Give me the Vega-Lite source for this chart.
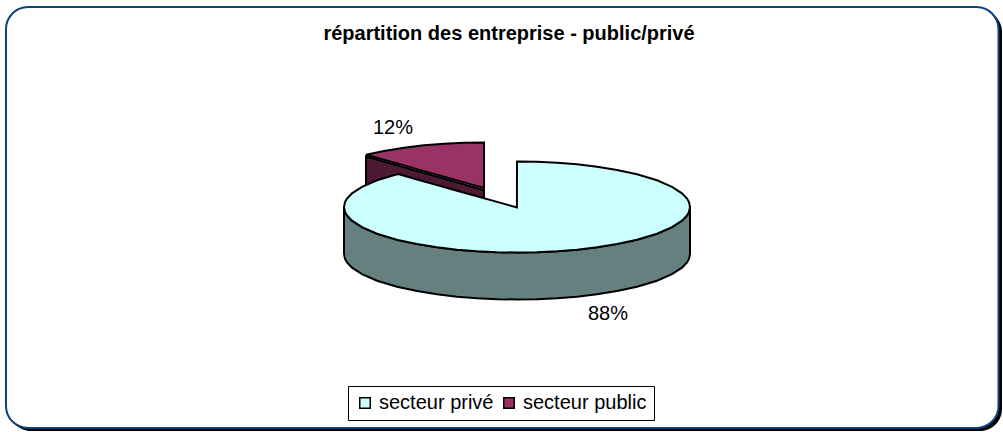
{
"$schema":"https://vega.github.io/schema/vega-lite/v6.json",
"width":1003,"height":432,"padding":0,"autosize":{"type":"none"},"background":"white",
"config":{"view":{"stroke":null}},
"title":{"text":"répartition des entreprise - public/privé","font":"Liberation Sans","fontSize":20,"fontWeight":"bold","color":"#000000","anchor":"middle","frame":"group","dx":7.5,"offset":-44},
"datasets":{
"cadre":[{"x":6,"x2":998.5,"y":7,"y2":428}],
"ombre":[{"x":9,"x2":1002,"y":10,"y2":431}],
"public_paroi":[{"x":366,"y":156.5,"y2":203.5},{"x":484,"y":190,"y2":237}],
"public_dessus":[
{"secteur":"secteur public","x":366,"y":154.7,"y2":154.7},
{"secteur":"secteur public","x":384,"y":150.9,"y2":159.8},
{"secteur":"secteur public","x":404,"y":147.7,"y2":165.4},
{"secteur":"secteur public","x":424,"y":145.3,"y2":171.1},
{"secteur":"secteur public","x":444,"y":143.7,"y2":176.7},
{"secteur":"secteur public","x":464,"y":142.8,"y2":182.4},
{"secteur":"secteur public","x":484,"y":142.5,"y2":188}],
"prive_paroi":[
{"x":344,"y":207,"y2":254},{"x":345,"y":211.9,"y2":258.9},{"x":347,"y":215.4,"y2":262.4},{"x":352,"y":220.7,"y2":267.7},{"x":362,"y":227.2,"y2":274.2},{"x":377,"y":233.7,"y2":280.7},{"x":397,"y":239.8,"y2":286.8},{"x":417,"y":244.1,"y2":291.1},{"x":437,"y":247.3,"y2":294.3},{"x":457,"y":249.7,"y2":296.7},{"x":477,"y":251.3,"y2":298.3},{"x":497,"y":252.2,"y2":299.2},{"x":517,"y":252.5,"y2":299.5},{"x":537,"y":252.2,"y2":299.2},{"x":557,"y":251.3,"y2":298.3},{"x":577,"y":249.7,"y2":296.7},{"x":597,"y":247.3,"y2":294.3},{"x":617,"y":244.1,"y2":291.1},{"x":637,"y":239.8,"y2":286.8},{"x":657,"y":233.7,"y2":280.7},{"x":672,"y":227.2,"y2":274.2},{"x":682,"y":220.7,"y2":267.7},{"x":687,"y":215.4,"y2":262.4},{"x":689,"y":211.9,"y2":258.9},{"x":690,"y":207,"y2":254}],
"prive_dessus":[
{"secteur":"secteur privé","x":344,"y":207,"y2":207},
{"secteur":"secteur privé","x":345,"y":202.1,"y2":211.9},
{"secteur":"secteur privé","x":347,"y":198.6,"y2":215.4},
{"secteur":"secteur privé","x":352,"y":193.3,"y2":220.7},
{"secteur":"secteur privé","x":362,"y":186.8,"y2":227.2},
{"secteur":"secteur privé","x":377,"y":180.3,"y2":233.7},
{"secteur":"secteur privé","x":397,"y":174.2,"y2":239.8},
{"secteur":"secteur privé","x":399,"y":174.3,"y2":240.3},
{"secteur":"secteur privé","x":417,"y":179.5,"y2":244.1},
{"secteur":"secteur privé","x":437,"y":185.1,"y2":247.3},
{"secteur":"secteur privé","x":457,"y":190.7,"y2":249.7},
{"secteur":"secteur privé","x":477,"y":196.3,"y2":251.3},
{"secteur":"secteur privé","x":497,"y":201.9,"y2":252.2},
{"secteur":"secteur privé","x":516.9,"y":207.5,"y2":252.5},
{"secteur":"secteur privé","x":517,"y":161.5,"y2":252.5},
{"secteur":"secteur privé","x":537,"y":161.8,"y2":252.2},
{"secteur":"secteur privé","x":557,"y":162.7,"y2":251.3},
{"secteur":"secteur privé","x":577,"y":164.3,"y2":249.7},
{"secteur":"secteur privé","x":597,"y":166.7,"y2":247.3},
{"secteur":"secteur privé","x":617,"y":169.9,"y2":244.1},
{"secteur":"secteur privé","x":637,"y":174.2,"y2":239.8},
{"secteur":"secteur privé","x":657,"y":180.3,"y2":233.7},
{"secteur":"secteur privé","x":672,"y":186.8,"y2":227.2},
{"secteur":"secteur privé","x":682,"y":193.3,"y2":220.7},
{"secteur":"secteur privé","x":687,"y":198.6,"y2":215.4},
{"secteur":"secteur privé","x":689,"y":202.1,"y2":211.9},
{"secteur":"secteur privé","x":690,"y":207,"y2":207}],
"parts":[{"secteur":"secteur privé","part":0.88,"x":608,"y":314},{"secteur":"secteur public","part":0.12,"x":393,"y":128}]
},
"encoding":{
"x":{"field":"x","type":"quantitative","scale":{"domain":[0,1003],"nice":false,"zero":false},"axis":null},
"y":{"field":"y","type":"quantitative","scale":{"domain":[432,0],"nice":false,"zero":false},"axis":null}
},
"layer":[
{"data":{"name":"ombre"},"mark":{"type":"rect","fill":"#000000","cornerRadius":22},"encoding":{"x2":{"field":"x2"},"y2":{"field":"y2"}}},
{"data":{"name":"cadre"},"mark":{"type":"rect","fill":"#ffffff","stroke":"#0d4277","strokeWidth":2,"cornerRadius":22},"encoding":{"x2":{"field":"x2"},"y2":{"field":"y2"}}},
{"data":{"name":"public_paroi"},"mark":{"type":"area","fill":"#4d1a33","stroke":"#000000","strokeWidth":2},"encoding":{"y2":{"field":"y2"}}},
{"data":{"name":"public_dessus"},"mark":{"type":"area","stroke":"#000000","strokeWidth":2,"opacity":1},"encoding":{"y2":{"field":"y2"},"color":{"field":"secteur","type":"nominal","scale":{"domain":["secteur privé","secteur public"],"range":["#ccffff","#993366"]},"legend":{"title":null,"orient":"none","legendX":348,"legendY":386,"direction":"horizontal","columns":2,"symbolType":"square","symbolSize":110,"symbolStrokeColor":"#000000","symbolStrokeWidth":1.5,"labelFont":"Liberation Sans","labelFontSize":20,"labelColor":"#000000","strokeColor":"#000000","fillColor":"#ffffff","padding":7,"columnPadding":5}}}},
{"data":{"name":"prive_paroi"},"mark":{"type":"area","fill":"#668080","stroke":"#000000","strokeWidth":2},"encoding":{"y2":{"field":"y2"}}},
{"data":{"name":"prive_dessus"},"mark":{"type":"area","stroke":"#000000","strokeWidth":2,"opacity":1},"encoding":{"y2":{"field":"y2"},"color":{"field":"secteur","type":"nominal"}}},
{"data":{"name":"parts"},"mark":{"type":"text","font":"Liberation Sans","fontSize":20,"color":"#000000","align":"center","baseline":"middle"},"encoding":{"text":{"field":"part","type":"quantitative","format":".0%"}}}
]
}
